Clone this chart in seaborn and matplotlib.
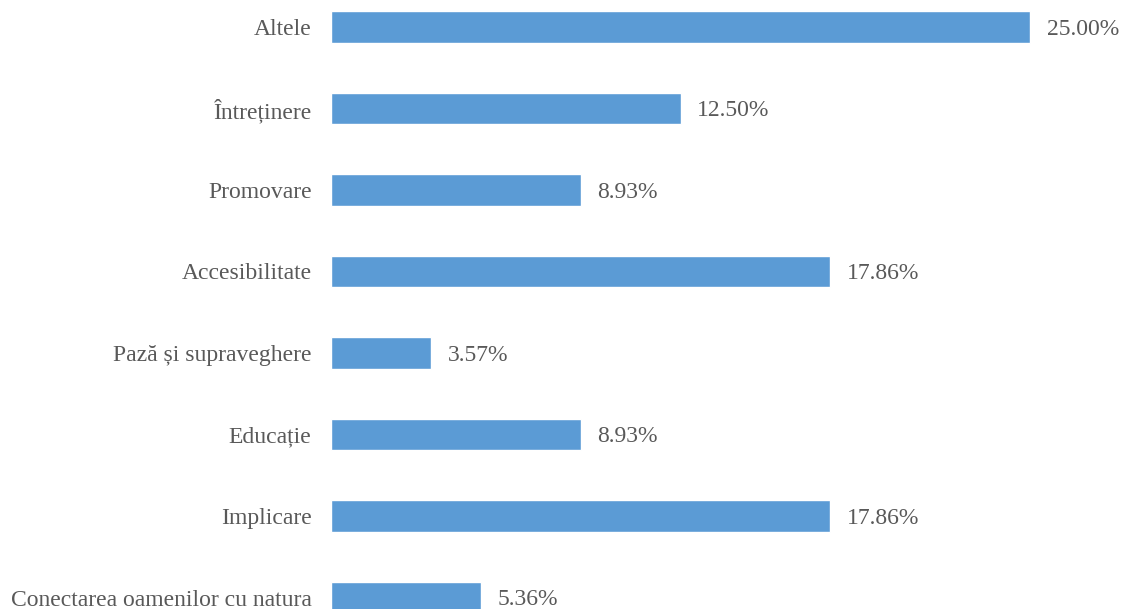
import matplotlib
matplotlib.use("Agg")
import matplotlib.pyplot as plt
import seaborn as sns
import pandas as pd

categories = [
    "Altele",
    "Întreținere",
    "Promovare",
    "Accesibilitate",
    "Pază și supraveghere",
    "Educație",
    "Implicare",
    "Conectarea oamenilor cu natura",
]
values = [25.00, 12.50, 8.93, 17.86, 3.57, 8.93, 17.86, 5.36]

df = pd.DataFrame({"categorie": categories, "procent": values})

sns.set_theme(style="white")
plt.rcParams["font.family"] = ["Liberation Serif", "DejaVu Serif"]

fig = plt.figure(figsize=(11.23, 6.09), dpi=100)
ax = fig.add_axes([331 / 1123, 0, 792 / 1123, 1])

sns.barplot(
    data=df, x="procent", y="categorie", order=categories,
    color="#5B9BD5", saturation=1, width=0.39, orient="h", ax=ax,
)

ax.set_xlim(0, 792 / 27.96)
ax.set_ylim(7.141, -0.331)

text_color = "#595959"
for i, v in enumerate(values):
    ax.text(v + 0.6, i + 0.025, f"{v:.2f}%", va="center", ha="left",
            fontsize=17, color=text_color)

ax.set_xlabel("")
ax.set_ylabel("")
ax.set_xticks([])
ax.tick_params(axis="y", length=0, pad=14, labelsize=17, labelcolor=text_color)
for s in ax.spines.values():
    s.set_visible(False)

fig.savefig("out.png", dpi=100)
